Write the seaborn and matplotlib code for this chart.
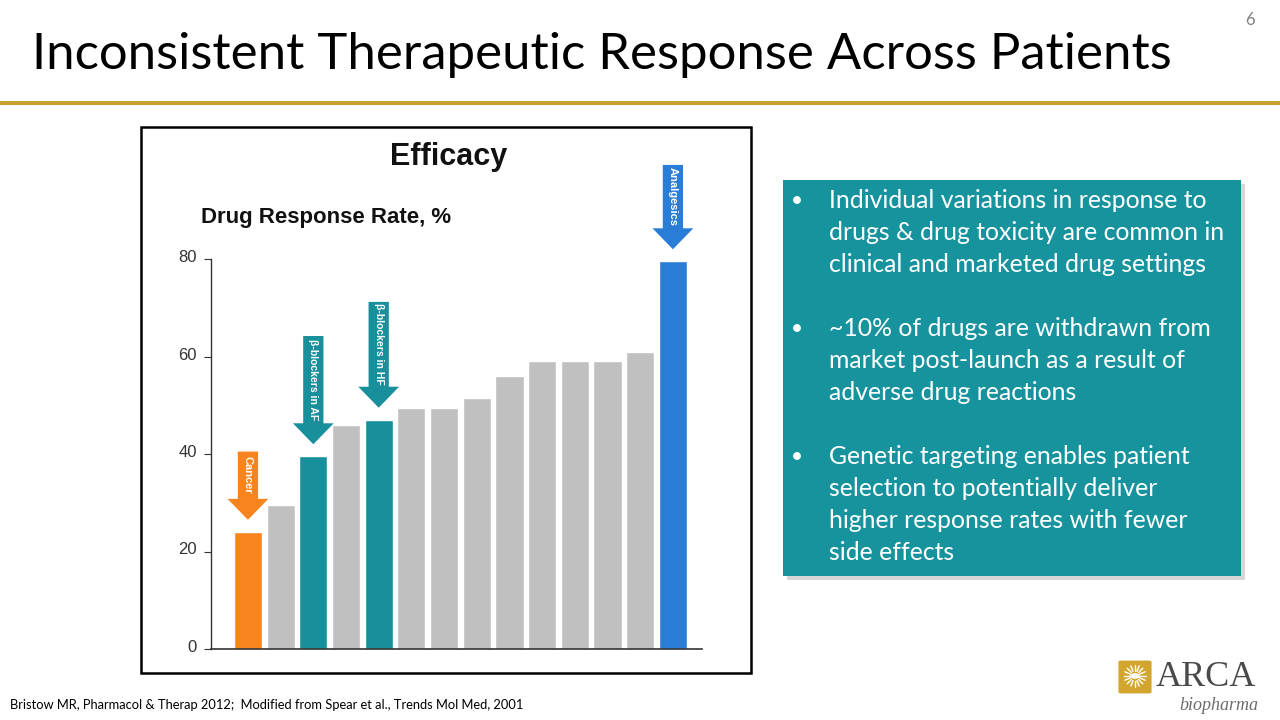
import numpy as np
import pandas as pd
import matplotlib.pyplot as plt
import matplotlib.transforms as mtransforms
import seaborn as sns
from matplotlib.patches import Rectangle, FancyBboxPatch

# Data
response_rate = [24, 29.5, 39.5, 46, 47, 49.5, 49.5, 51.5, 56, 59, 59, 59, 61, 79.5]
drug_group = ["cancer", "other", "beta", "other", "beta", "other", "other", "other",
              "other", "other", "other", "other", "other", "analgesic"]
group_colors = {"cancer": "#F7841E", "other": "#C0C0C0", "beta": "#17909C", "analgesic": "#2A7DD6"}
arrow_labels = ["Cancer", "β-blockers in AF", "β-blockers in HF", "Analgesics"]
arrow_bars = [0, 2, 4, 13]
arrow_tops = [40.5, 64.2, 71.2, 99.3]
y_ticks = [0, 20, 40, 60, 80]

bullets = [
    ["Individual variations in response to", "drugs & drug toxicity are common in",
     "clinical and marketed drug settings"],
    ["~10% of drugs are withdrawn from", "market post-launch as a result of",
     "adverse drug reactions"],
    ["Genetic targeting enables patient", "selection to potentially deliver",
     "higher response rates with fewer", "side effects"],
]

W, H = 1280, 720


def fx(x):
    return x / W


def fy(y):
    return 1 - y / H


sns.set_style("white")
plt.rcParams['font.family'] = ['Liberation Sans', 'DejaVu Sans']

fig = plt.figure(figsize=(12.8, 7.2), dpi=100)
fig.patch.set_facecolor("white")

# Slide title and rule
fig.text(fx(32), fy(55), "Inconsistent Therapeutic Response Across Patients", fontsize=36.6,
         family=['Lato', 'DejaVu Sans'], color="black", va='center', ha='left')
fig.text(fx(1250), fy(20), "6", fontsize=12, color="#7f7f7f", ha='center', va='center',
         family=['Lato', 'DejaVu Sans'])
fig.add_artist(Rectangle((0, fy(105)), 1, 4 / H, transform=fig.transFigure,
                         facecolor="#C9A130", edgecolor='none'))

# Chart frame
fig.add_artist(Rectangle((fx(141), fy(673)), fx(751) - fx(141), (673 - 127) / H,
                         transform=fig.transFigure, facecolor='none', edgecolor='black', lw=1.8))

# Bar chart
ax = fig.add_axes([fx(211), fy(649), fx(702) - fx(211), (649 - 161.5) / H])
df = pd.DataFrame({"rank": np.arange(len(response_rate)), "rate": response_rate, "group": drug_group})
sns.barplot(data=df, x="rank", y="rate", hue="group", palette=group_colors, dodge=False,
            legend=False, width=0.86, saturation=1, ax=ax)
ax.set_xlim(-1.13, 13.89)
ax.set_ylim(0, 100)
ax.patch.set_alpha(0)
ax.set_xlabel("")
ax.set_ylabel("")
ax.set_xticks([])
ax.set_yticks(y_ticks)
ax.set_yticklabels([str(t) for t in y_ticks], fontsize=12, color="#333333")
ax.tick_params(axis='y', direction='out', length=5, width=0.8, color="#333333", pad=5, left=True)
shift_up = mtransforms.ScaledTranslation(0, 3 / 100, fig.dpi_scale_trans)
for lbl in ax.get_yticklabels():
    lbl.set_transform(lbl.get_transform() + shift_up)
for side in ["top", "right"]:
    ax.spines[side].set_visible(False)
ax.spines['left'].set_bounds(0, 80)
ax.spines['left'].set_color("#333333")
ax.spines['bottom'].set_color("#333333")
ax.spines['left'].set_linewidth(1)
ax.spines['bottom'].set_linewidth(1.2)

# Block arrows with labels
for lab, bi, top in zip(arrow_labels, arrow_bars, arrow_tops):
    tip = response_rate[bi] + 2.5
    col = group_colors[drug_group[bi]]
    ax.arrow(bi, top, 0, tip - top, width=0.62, head_width=1.25, head_length=4.3,
             length_includes_head=True, facecolor=col, edgecolor='none', clip_on=False)
    mid = (top + tip + 4.3) / 2
    ax.text(bi, mid, lab, rotation=-90, ha='center', va='center', color='white',
            fontsize=8 if len(lab) < 12 else 7.5, fontweight='bold', clip_on=False)

fig.text(fx(449), fy(157), "Efficacy", fontsize=22, fontweight='bold', ha='center', va='center',
         color="#111111")
fig.text(fx(201), fy(218), "Drug Response Rate, %", fontsize=16, fontweight='bold',
         ha='left', va='center', color="#111111")

# Teal text box with shadow
fig.add_artist(Rectangle((fx(787), fy(580)), fx(1241) - fx(783), (576 - 180) / H,
                         transform=fig.transFigure, facecolor="#bdbdbd", edgecolor='none', alpha=0.6))
fig.add_artist(Rectangle((fx(783), fy(576)), fx(1241) - fx(783), (576 - 180) / H,
                         transform=fig.transFigure, facecolor="#17939E", edgecolor='none'))
y = 201
for para in bullets:
    fig.text(fx(797), fy(y), "•", fontsize=15, color='white', va='center', ha='center',
             family=['Lato', 'DejaVu Sans'])
    for line in para:
        fig.text(fx(829), fy(y), line, fontsize=17.8, color='white', va='center', ha='left',
                 family=['Lato', 'DejaVu Sans'])
        y += 32
    y += 32

# Footer
fig.text(fx(10), fy(705), "Bristow MR, Pharmacol & Therap 2012;  Modified from Spear et al., Trends Mol Med, 2001",
         fontsize=9.3, color="black", va='center', ha='left', family=['Lato', 'DejaVu Sans'])

# Logo
fig.add_artist(FancyBboxPatch((fx(1121), fy(692)), fx(28), 30 / H, boxstyle="round,pad=0.002",
                              transform=fig.transFigure, facecolor="#D2A52E", edgecolor='none'))
cx, cy = 1135, 676
for ang in np.linspace(0, 2 * np.pi, 16, endpoint=False):
    fig.add_artist(plt.Line2D([fx(cx + 5 * np.cos(ang)), fx(cx + 11 * np.cos(ang))],
                              [fy(cy + 5 * np.sin(ang)), fy(cy + 11 * np.sin(ang))],
                              transform=fig.transFigure, color="white", lw=1))
fig.add_artist(plt.Circle((fx(cx), fy(cy)), 5 / W, transform=fig.transFigure,
                          facecolor="white", edgecolor='none'))
fig.text(fx(1156), fy(677), "ARCA", fontsize=26, family=['Liberation Serif', 'DejaVu Serif'],
         color="#4a4a4a", va='center', ha='left')
fig.text(fx(1258), fy(706), "biopharma", fontsize=13, family=['Liberation Serif', 'DejaVu Serif'],
         style='italic', color="#6b6b6b", va='center', ha='right')

fig.savefig("out.png", dpi=100)
